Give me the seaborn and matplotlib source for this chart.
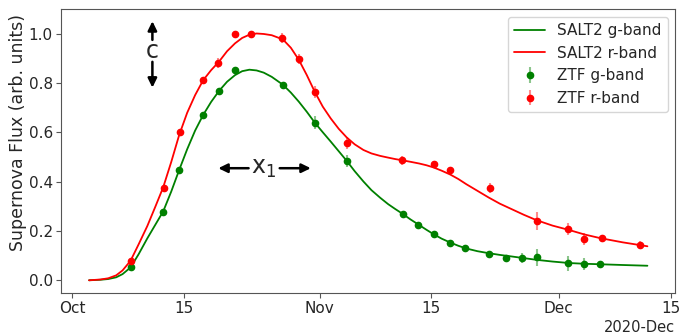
import numpy as np
import pandas as pd
import matplotlib
matplotlib.use("Agg")
import matplotlib.pyplot as plt
import matplotlib.dates as mdates
import seaborn as sns

# days since 2020-10-01
model_days = [2.1, 3.5, 4.5, 5.5, 6.3, 7.3, 8.3, 9.4, 10.4, 11.4, 12.4, 13.4, 14.4, 15.4,
              16.4, 17.4, 18.4, 19.4, 20.4, 21.3, 22.2, 23.1, 24.0, 25.0, 26.4, 27.4,
              28.4, 29.4, 30.4, 31.4, 32.4, 33.4, 34.4, 35.4, 36.5, 37.5, 38.6, 39.6,
              40.5, 41.4, 42.4, 43.5, 44.4, 45.3, 46.3, 47.4, 48.4, 49.4, 50.8, 52.2,
              53.6, 55.0, 56.6, 58.2, 60.2, 62.3, 64.2, 66.2, 69.0, 72.1]
model_g = [0.000, 0.002, 0.005, 0.012, 0.025, 0.052, 0.105, 0.170, 0.225, 0.280, 0.360, 0.448,
           0.532, 0.608, 0.671, 0.724, 0.769, 0.806, 0.833, 0.849, 0.855, 0.852, 0.843, 0.826,
           0.794, 0.762, 0.725, 0.684, 0.640, 0.601, 0.563, 0.524, 0.485, 0.443, 0.401, 0.366,
           0.335, 0.309, 0.289, 0.270, 0.247, 0.224, 0.205, 0.187, 0.169, 0.153, 0.140, 0.129,
           0.118, 0.110, 0.103, 0.097, 0.090, 0.083, 0.076, 0.070, 0.067, 0.065, 0.062, 0.059]
model_r = [0.000, 0.003, 0.008, 0.020, 0.040, 0.079, 0.145, 0.220, 0.298, 0.378, 0.480, 0.590,
           0.680, 0.752, 0.812, 0.853, 0.888, 0.930, 0.962, 0.984, 0.997, 1.002, 1.000, 0.995,
           0.978, 0.944, 0.895, 0.833, 0.765, 0.705, 0.657, 0.615, 0.580, 0.552, 0.529, 0.515,
           0.505, 0.498, 0.492, 0.487, 0.481, 0.474, 0.467, 0.458, 0.445, 0.429, 0.411, 0.390,
           0.363, 0.336, 0.311, 0.290, 0.266, 0.244, 0.222, 0.204, 0.186, 0.171, 0.154, 0.138]

g_days = [7.4, 11.4, 13.4, 16.35, 18.4, 20.4, 26.4, 30.4, 34.4, 41.4, 43.4, 45.3, 47.4,
          49.2, 52.3, 54.4, 56.4, 58.3, 62.2, 64.2, 66.2]
g_flux = [0.052, 0.278, 0.448, 0.670, 0.769, 0.855, 0.794, 0.640, 0.485, 0.270, 0.224, 0.188, 0.153,
          0.130, 0.108, 0.091, 0.090, 0.093, 0.069, 0.065, 0.066]
g_err = [0.015, 0.010, 0.010, 0.010, 0.010, 0.010, 0.012, 0.027, 0.025, 0.010, 0.010, 0.010, 0.010,
         0.010, 0.012, 0.010, 0.020, 0.034, 0.030, 0.025, 0.010]

r_days = [7.4, 11.5, 13.55, 16.35, 18.3, 20.4, 22.4, 26.35, 28.4, 30.4, 34.4, 41.3, 45.3,
          47.3, 52.4, 58.3, 62.2, 64.2, 66.4, 71.2]
r_flux = [0.079, 0.376, 0.600, 0.813, 0.883, 1.001, 0.999, 0.983, 0.897, 0.765, 0.558, 0.488, 0.473,
          0.446, 0.374, 0.242, 0.208, 0.168, 0.171, 0.145]
r_err = [0.012, 0.012, 0.015, 0.012, 0.020, 0.010, 0.010, 0.020, 0.020, 0.025, 0.025, 0.018, 0.012,
         0.010, 0.020, 0.037, 0.025, 0.025, 0.010, 0.015]

# annotation anchors (days, flux)
x1_label = (24.0, 0.455)
x1_arrows = [((22.1, 0.455), (18.3, 0.455)), ((26.0, 0.455), (29.9, 0.455))]
c_label = (10.04, 0.931)
c_arrows = [((10.04, 0.976), (10.04, 1.052)), ((10.04, 0.887), (10.04, 0.782))]

base = pd.Timestamp("2020-10-01")
to_date = lambda d: base + pd.to_timedelta(np.asarray(d), unit="D")
to_num = lambda d: mdates.date2num(base + pd.Timedelta(days=d))

sns.set_style("white")
plt.rcParams["font.family"] = ["DejaVu Sans"]
plt.rcParams["font.size"] = 11

fig, ax = plt.subplots(figsize=(6.87, 3.34), dpi=100)

model = pd.DataFrame({"date": to_date(model_days), "g": model_g, "r": model_r})
sns.lineplot(data=model, x="date", y="g", color="green", label="SALT2 g-band", ax=ax, lw=1.3)
sns.lineplot(data=model, x="date", y="r", color="red", label="SALT2 r-band", ax=ax, lw=1.3)

ax.errorbar(to_date(g_days), g_flux, yerr=g_err, fmt="o", color="green", ms=4.5,
            ecolor=(0, 0.5, 0, 0.45), elinewidth=1.5, label="ZTF g-band")
ax.errorbar(to_date(r_days), r_flux, yerr=r_err, fmt="o", color="red", ms=4.5,
            ecolor=(1, 0, 0, 0.45), elinewidth=1.5, label="ZTF r-band")

ax.set_ylim(-0.05, 1.1)
ax.set_xlabel("")
ax.set_ylabel("Supernova Flux (arb. units)", fontsize=12.5)
ax.yaxis.set_label_coords(-0.056, 0.565)

loc = mdates.AutoDateLocator()
ax.xaxis.set_major_locator(loc)
fmt = mdates.ConciseDateFormatter(loc)
ax.xaxis.set_major_formatter(fmt)

aprops = dict(arrowstyle="-|>,head_length=0.45,head_width=0.22", lw=1.8, color="black",
              shrinkA=0, shrinkB=0, mutation_scale=12)
ax.text(to_num(x1_label[0]), x1_label[1], "x$_1$", fontsize=17, ha="center", va="center")
for (t, h) in x1_arrows:
    ax.annotate("", xy=(to_num(h[0]), h[1]), xytext=(to_num(t[0]), t[1]), arrowprops=aprops)
ax.text(to_num(c_label[0]), c_label[1], "c", fontsize=17, ha="center", va="center")
for (t, h) in c_arrows:
    ax.annotate("", xy=(to_num(h[0]), h[1]), xytext=(to_num(t[0]), t[1]), arrowprops=aprops)

for s in ax.spines.values():
    s.set_color("#555555")
ax.tick_params(axis="both", which="major", length=3.5, pad=2.5, color="#555555",
               bottom=True, left=True, labelsize=11)

ax.legend(loc="upper right", fontsize=11)
fig.subplots_adjust(left=0.089, right=0.983, top=0.972, bottom=0.124)
fig.canvas.draw()
ax.xaxis.get_offset_text().set_fontsize(10.5)
fig.savefig("out.png", dpi=100)
